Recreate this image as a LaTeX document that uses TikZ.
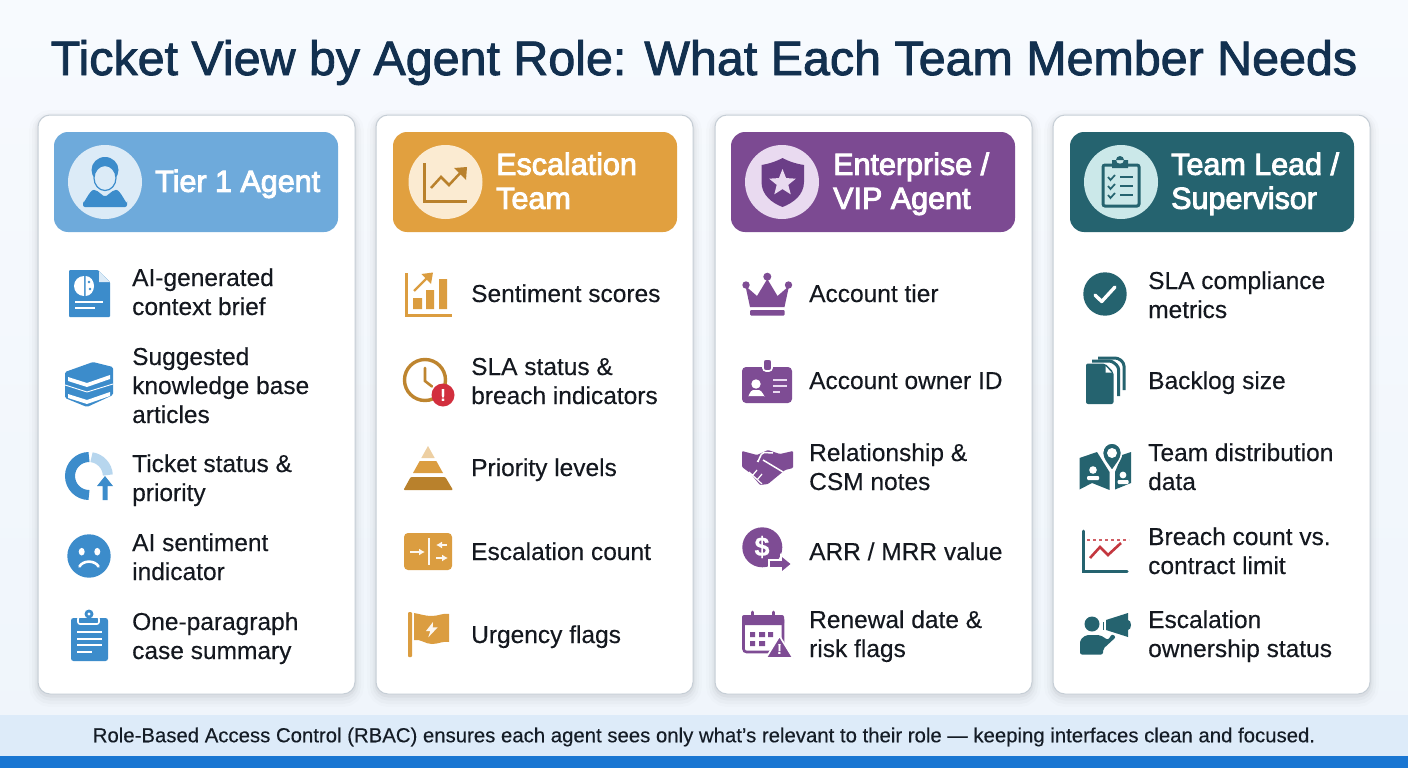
\documentclass[tikz,border=0pt]{standalone}
\usepackage{fontspec}
\setmainfont[FakeBold=0.25]{Liberation Sans}
\newfontfamily\mediumfont[FakeBold=1.8]{Liberation Sans}
\newfontfamily\headfont[FakeBold=3]{Liberation Sans}
\usetikzlibrary{shapes.geometric,arrows.meta}

\definecolor{bgtop}{HTML}{F7FAFE}
\definecolor{bgbot}{HTML}{EFF5FB}
\definecolor{titleink}{HTML}{12304F}
\definecolor{bodyink}{HTML}{14181F}
\definecolor{cardline}{HTML}{C6CED6}
\definecolor{bandlight}{HTML}{DDEBF9}
\definecolor{banddark}{HTML}{1976D2}
\definecolor{tierhead}{HTML}{6EAADB}
\definecolor{tierdisc}{HTML}{DCEBF7}
\definecolor{tierink}{HTML}{3C8CCB}
\definecolor{tierpale}{HTML}{B7D6EE}
\definecolor{eschead}{HTML}{E1A03F}
\definecolor{escdisc}{HTML}{FBEBD2}
\definecolor{escink}{HTML}{DB9D40}
\definecolor{escdark}{HTML}{B9812C}
\definecolor{escpale}{HTML}{EDCFA2}
\definecolor{alertred}{HTML}{D22F3E}
\definecolor{viphead}{HTML}{7C4A92}
\definecolor{vipdisc}{HTML}{E9DAF0}
\definecolor{vipink}{HTML}{7E4C94}
\definecolor{vipdeep}{HTML}{6B3E87}
\definecolor{leadhead}{HTML}{25636F}
\definecolor{leaddisc}{HTML}{CBE8E9}
\definecolor{leadred}{HTML}{C4373F}

\tikzset{
    cardbox/.style={draw=cardline, line width=1pt, fill=white, rounded corners=12pt,
        preaction={draw=black, draw opacity=.012, line width=18pt, transform canvas={yshift=-4pt}},
        preaction={draw=black, draw opacity=.018, line width=12pt, transform canvas={yshift=-4pt}},
        preaction={draw=black, draw opacity=.025, line width=7pt, transform canvas={yshift=-3pt}},
        preaction={draw=black, draw opacity=.035, line width=3pt, transform canvas={yshift=-2pt}}},
    headbox/.style={rounded corners=14pt},
    headtext/.style={anchor=west, align=left, inner sep=0pt, text=white,
        font=\fontsize{30.5}{34}\selectfont\headfont},
    itemtext/.style={anchor=west, align=left, inner sep=0pt, text=bodyink, yshift=.8pt,
        font=\fontsize{24.5}{29}\selectfont},
    knockout/.style={draw=white, line width=1.6pt},
    boxarrow/.style={white!92!escink, line width=2.2pt, -{Latex[length=6pt,width=7pt]}}
}

\begin{document}
\begin{tikzpicture}[x=1pt,y=-1pt]
    \useasboundingbox (0,0) rectangle (1408,768);
    \shade[top color=bgtop, bottom color=bgbot] (0,0) rectangle (1408,768);

    \node[text=titleink, inner sep=0pt, font=\fontsize{48.4}{52}\selectfont\mediumfont] (title) at (704,62.5) {Ticket View by Agent Role: What Each Team Member Needs};

    % cards
    \draw[cardbox] (38,115) rectangle (355,694);
    \draw[cardbox] (376,115) rectangle (693,694);
    \draw[cardbox] (715,115) rectangle (1032,694);
    \draw[cardbox] (1053,115) rectangle (1370,694);

    % headers
    \fill[headbox, tierhead] (54,132) rectangle (338,232);
    \fill[headbox, eschead] (393,132) rectangle (677,232);
    \fill[headbox, viphead] (731,132) rectangle (1015,232);
    \fill[headbox, leadhead] (1070,132) rectangle (1354,232);
    \fill[tierdisc] (105,182) circle (37);
    \fill[escdisc] (445.5,182) circle (37);
    \fill[vipdisc] (782,182) circle (37);
    \fill[leaddisc] (1121,182) circle (37);
    \node[headtext] (tier) at (155,185) {\strut Tier 1 Agent};
    \node[headtext] (esc) at (496,185) {\strut Escalation\\\strut Team};
    \node[headtext] (vip) at (833,185) {\strut Enterprise /\\\strut VIP Agent};
    \node[headtext] (lead) at (1171,185) {\strut Team Lead /\\\strut Supervisor};

    % header glyphs
    \fill[tierink] (105,170) ellipse (13.5 and 13);
    \draw[tierink, fill=tierdisc, line width=1.2pt] (105,178) ellipse (11 and 12.5);
    \fill[tierink, rounded corners=2pt] (83,207) -- (83,200) to[out=-90, in=175] (96,190) -- (105,197) -- (114,190) to[out=5, in=-90] (127,200) -- (127,207) -- cycle;
    \draw[escdark, line width=3pt] (424,163) -- (424,201) -- (467,201);
    \draw[escdark, line width=2.5pt] (431,188) -- (441,177) -- (449,185) -- (463,170);
    \fill[escdark] (467,167) -- (454,168) -- (466,180) -- cycle;
    \fill[vipdeep] (782.5,158) .. controls (790,162) and (797,164) .. (804,165) -- (804,182) .. controls (804,195) and (793,203) .. (782.5,207) .. controls (772,203) and (761.5,195) .. (761.5,182) -- (761.5,165) .. controls (768,164) and (775,162) .. cycle;
    \node[star, star points=5, star point ratio=2.3, fill=vipdisc, inner sep=0pt, minimum size=28pt] (vipstar) at (782.5,183) {};
    \draw[leadhead, line width=3pt, rounded corners=2pt] (1103,165) rectangle (1139,206);
    \fill[leadhead] (1112,160) rectangle (1128,168) (1120,160) circle (4);
    \draw[leadhead, line width=1.7pt] (1108,177) -- (1110.5,180) -- (1115,175) (1108,186) -- (1110.5,189) -- (1115,184) (1108,195) -- (1110.5,198) -- (1115,193);
    \draw[leadhead, line width=2.2pt] (1120,177) -- (1133,177) (1120,186) -- (1133,186) (1120,195) -- (1133,195);

    % tier 1 items
    \node[itemtext] (t1) at (132,295.5) {\strut AI-generated\\\strut context brief};
    \node[itemtext] (t2) at (132,389) {\strut Suggested\\\strut knowledge base\\\strut articles};
    \node[itemtext] (t3) at (132,481.5) {\strut Ticket status \&\\\strut priority};
    \node[itemtext] (t4) at (132,560.5) {\strut AI sentiment\\\strut indicator};
    \node[itemtext] (t5) at (132,639.5) {\strut One-paragraph\\\strut case summary};

    % escalation items
    \node[itemtext] (e1) at (471,297) {\strut Sentiment scores};
    \node[itemtext] (e2) at (471,384.5) {\strut SLA status \&\\\strut breach indicators};
    \node[itemtext] (e3) at (471,471) {\strut Priority levels};
    \node[itemtext] (e4) at (471,555) {\strut Escalation count};
    \node[itemtext] (e5) at (471,638) {\strut Urgency flags};

    % vip items
    \node[itemtext] (v1) at (809,297) {\strut Account tier};
    \node[itemtext] (v2) at (809,384) {\strut Account owner ID};
    \node[itemtext] (v3) at (809,470.5) {\strut Relationship \&\\\strut CSM notes};
    \node[itemtext] (v4) at (809,555) {\strut ARR / MRR value};
    \node[itemtext] (v5) at (809,637.5) {\strut Renewal date \&\\\strut risk flags};

    % lead items
    \node[itemtext] (l1) at (1148,298.5) {\strut SLA compliance\\\strut metrics};
    \node[itemtext] (l2) at (1148,384) {\strut Backlog size};
    \node[itemtext] (l3) at (1148,470.5) {\strut Team distribution\\\strut data};
    \node[itemtext] (l4) at (1148,554.5) {\strut Breach count vs.\\\strut contract limit};
    \node[itemtext] (l5) at (1148,637.5) {\strut Escalation\\\strut ownership status};

    % tier 1 icons
    \fill[tierink, rounded corners=1pt] (69,270) -- (98,270) -- (110,282) -- (110,317) -- (69,317) -- cycle;
    \fill[tierdisc] (99,271) -- (109.5,282) -- (99,282) -- cycle;
    \fill[white] (84,276) to[out=180, in=90] (74,286) to[out=-90, in=180] (84,296) -- cycle;
    \fill[white] (85.5,276) to[out=0, in=90] (94,286) to[out=-90, in=0] (85.5,296) -- cycle;
    \fill[tierink] (89,282) circle (1.3) (90,289) circle (1.3);
    \draw[white, line width=1.6pt] (75,302) -- (103,302) (75,308) -- (95,308);
    \fill[tierink, rounded corners=1.5pt] (65,372) -- (93,362) -- (113,367) -- (113,395) -- (87,407) -- (65,398) -- cycle;
    \fill[white] (68,377) -- (87,383) -- (110,375) -- (110,379) -- (87,387) -- (68,381) -- cycle;
    \fill[white] (68,394) -- (87,400) -- (110,392) -- (110,396) -- (87,404) -- (68,398) -- cycle;
    \draw[white, line width=.9pt] (65,385) -- (87,392) -- (113,384);
    \draw[tierink, line width=10pt] (89,457) arc[start angle=-90, end angle=-270, radius=19];
    \draw[tierpale, line width=10pt] (91.5,457.2) arc[start angle=-82, end angle=-3, radius=19];
    \fill[tierink] (105,476) -- (113,486) -- (107.5,486) -- (107.5,500) -- (102.5,500) -- (102.5,486) -- (97,486) -- cycle;
    \fill[tierink] (89,556) circle (21.7);
    \fill[white] (81.7,551.7) ellipse (3 and 3.8) (97.3,551.7) ellipse (3 and 3.8);
    \draw[white, line width=2.6pt, line cap=round] (79.5,566.5) .. controls (83,560) and (95,560) .. (98.5,566.5);
    \fill[tierink, rounded corners=2.5pt] (71,618) rectangle (108,661);
    \draw[knockout, fill=tierink, rounded corners=2pt] (78,624) rectangle (99,617);
    \fill[tierink] (89,614) circle (4.5);
    \fill[white] (89,614) circle (1.6);
    \draw[white, line width=2pt] (77,632) -- (102,632) (77,638.5) -- (102,638.5) (77,645) -- (102,645) (77,651.5) -- (92,651.5);

    % escalation icons
    \draw[escink, line width=3.2pt] (406.5,273) -- (406.5,315.5) -- (452,315.5);
    \fill[escink] (413,298) rectangle (422,309) (426,290) rectangle (434,309) (439,279) rectangle (447,309);
    \draw[escink, line width=2.4pt] (414,291) -- (428,277);
    \fill[escink] (433,272.5) -- (421.5,274) -- (431,284) -- cycle;
    \draw[escdark!85!escink, line width=3.4pt] (425,380) circle (20.5);
    \draw[escdark!85!escink, line width=2.6pt, line cap=round] (425,368) -- (425,381) -- (432,386.5);
    \fill[alertred] (443,395) circle (11.5);
    \node[text=white, inner sep=0pt, font=\fontsize{17}{17}\selectfont\bfseries] (alert) at (443,395) {!};
    \fill[escpale] (428,446) -- (434.7,458) -- (421.3,458) -- cycle;
    \fill[escink] (419.7,461) -- (436.3,461) -- (443,473) -- (413,473) -- cycle;
    \fill[escdark, rounded corners=1pt] (410.7,477) -- (445.3,477) -- (453,490) -- (403.5,490) -- cycle;
    \fill[escink, rounded corners=4pt] (404,533) rectangle (452,570);
    \draw[white!92!escink, line width=2.4pt] (429,538) -- (429,565);
    \draw[boxarrow] (410,552) -- (425,552);
    \draw[boxarrow] (447,545) -- (436,545);
    \draw[boxarrow] (436,558) -- (448,558);
    \fill[escink, rounded corners=1pt] (408,612) rectangle (412,657);
    \fill[escink] (414,613) to[out=-10, in=180] (432,616) to[out=0, in=170] (449,614) -- (449,642) to[out=170, in=0] (432,644) to[out=180, in=10] (414,640) -- cycle;
    \fill[white!92!escink] (433,622) -- (426,631) -- (430.3,631) -- (428.3,637.3) -- (437.7,627.3) -- (432.7,627.3) -- cycle;

    % vip icons
    \fill[vipink] (750,307) -- (745.5,286) -- (757,296) -- (767.3,279) -- (777.5,296) -- (789,286) -- (784.5,307) -- cycle;
    \fill[vipink] (746,285) circle (3.7) (767.3,276.7) circle (4) (788.5,285) circle (3.7);
    \fill[vipink, rounded corners=1pt] (750,310) rectangle (784.5,315.5);
    \fill[vipink, rounded corners=4pt] (742,367) rectangle (792,403);
    \draw[knockout, fill=vipink, rounded corners=3pt] (763,359) rectangle (772,371);
    \fill[white] (756,384) circle (4.7);
    \fill[white] (748,396) to[out=-90, in=180] (753,390) -- (759,390) to[out=0, in=-90] (765,396) -- cycle;
    \draw[vipdisc, line width=1.7pt] (773,380) -- (787,380) (773,386) -- (787,386) (773,392) -- (780,392);
    \fill[vipink, rounded corners=1pt] (742,451) -- (757,455) -- (768,450) -- (780,454) -- (793,451) -- (793,468) -- (785,470) -- (768,484) -- (760,485) -- (750,473) -- (742,467) -- cycle;
    \draw[white, line width=1.5pt] (757,461) to[out=-70, in=180] (764,452.5) -- (773,453) (763,460) -- (783,472);
    \draw[white, line width=1.2pt] (749,472) -- (762,484) (757,470) -- (752,476) (762,474) -- (757,480);
    \fill[vipink] (762.3,547.3) circle (20);
    \node[text=white, inner sep=0pt, font=\fontsize{27}{27}\selectfont\bfseries] (dollar) at (762,547) {\$};
    \draw[knockout, fill=vipink] (769,560) -- (781,560) -- (781,555) -- (792,564) -- (781,573) -- (781,568) -- (769,568) -- cycle;
    \draw[vipink, line width=2.6pt, rounded corners=3pt] (743.5,617) rectangle (783,652);
    \fill[vipink, rounded corners=2pt] (742,615) rectangle (784,625);
    \draw[vipink, line width=2.8pt, line cap=round] (752.7,612) -- (752.7,620) (773.3,612) -- (773.3,620);
    \fill[vipink] (750,632) rectangle (755,637) (759,632) rectangle (765,637) (768,632) rectangle (773,637) (750,641) rectangle (755,646) (759,641) rectangle (765,646);
    \draw[knockout, fill=vipink, line join=round] (779.5,636) -- (793,658) -- (766,658) -- cycle;
    \node[text=white, inner sep=0pt, font=\fontsize{14}{14}\selectfont\bfseries] (renewal) at (779.5,649) {!};

    % lead icons
    \fill[leadhead] (1105,294) circle (21.7);
    \draw[white, line width=3.4pt, line cap=round, line join=round] (1095,295) -- (1101.7,301.5) -- (1115,287);
    \draw[leadhead, line width=3pt, rounded corners=3pt] (1098,358) -- (1118,358) -- (1124,363) -- (1124,390);
    \draw[leadhead, line width=3pt, rounded corners=3pt] (1092,361) -- (1112,361) -- (1118.7,367) -- (1118.7,396);
    \fill[leadhead, rounded corners=2pt] (1086,363.5) -- (1105,363.5) -- (1113.5,372) -- (1113.5,404) -- (1086,404) -- cycle;
    \fill[white] (1105.5,366) -- (1111.5,372.5) -- (1105.5,372.5) -- cycle;
    \fill[leadhead] (1079.5,458) -- (1097,452) -- (1109.5,472) -- (1109.5,490) -- (1092,483) -- (1079.5,489.5) -- cycle;
    \fill[leadhead] (1115,472) -- (1122,455) -- (1131,452) -- (1131,483) -- (1115,489.5) -- cycle;
    \draw[knockout, fill=leadhead] (1112,471) .. controls (1106,462) and (1102.5,459) .. (1102.5,453) .. controls (1102.5,447) and (1107,443) .. (1112,443) .. controls (1117,443) and (1121.5,447) .. (1121.5,453) .. controls (1121.5,459) and (1118,462) .. cycle;
    \fill[white] (1112,453) circle (5);
    \fill[white] (1093,470) circle (3.8) (1123,475) circle (3.4);
    \fill[white, rounded corners=1pt] (1087,480) rectangle (1099,476) (1117.5,484) rectangle (1128.5,480);
    \draw[leadhead, line width=3pt, line cap=round] (1083,531) -- (1083,571) -- (1127,571);
    \draw[leadred!80!white, line width=1.4pt, dashed] (1087,540) -- (1129,540);
    \draw[leadred, line width=2.6pt] (1090,558) -- (1100,547) -- (1108,555) -- (1121,543);
    \fill[leadhead] (1092,624) circle (7.5);
    \fill[leadhead, rounded corners=2pt] (1080,654.5) -- (1080,640) -- (1086,635) -- (1100,635) -- (1108,640) -- (1112,634) -- (1116,637) -- (1103,649) -- (1103,654.5) -- cycle;
    \fill[leadhead] (1106,620) -- (1128,613) -- (1128,637) -- (1106,630) -- cycle;
    \fill[leadhead] (1102.5,622) rectangle (1104,630);
    \fill[leadhead] (1128,625) ellipse (3 and 5);

    % footer band
    \fill[bandlight] (0,715) rectangle (1408,756);
    \fill[banddark] (0,756) rectangle (1408,768);
    \node[text=bodyink!85!titleink, inner sep=0pt, font=\fontsize{20.35}{24}\selectfont] (note) at (704,737) {Role-Based Access Control (RBAC) ensures each agent sees only what's relevant to their role --- keeping interfaces clean and focused.};
\end{tikzpicture}
\end{document}
